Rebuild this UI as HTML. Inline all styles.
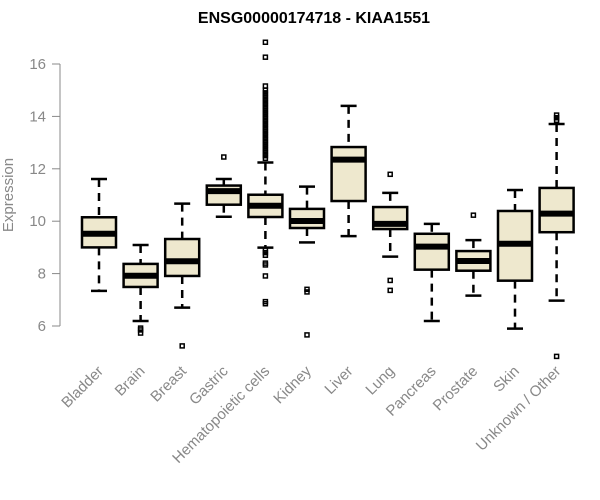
<!DOCTYPE html>
<html><head><meta charset="utf-8"><style>
body{margin:0;background:#fff}
svg{display:block;font-family:"Liberation Sans",sans-serif}
</style></head><body>
<svg id="chart" width="600" height="500">
<text x="314" y="23" text-anchor="middle" font-weight="bold" font-size="16">ENSG00000174718 - KIAA1551</text>
<text transform="translate(13,195) rotate(-90)" text-anchor="middle" font-size="15" fill="#888">Expression</text>
<g id="yaxis"></g>
<g id="boxes"></g>
<g id="xlabels"></g>
</svg>
<script>
const categories=["Bladder","Brain","Breast","Gastric","Hematopoietic cells","Kidney","Liver","Lung","Pancreas","Prostate","Skin","Unknown / Other"];
const lowWhisker=[7.34,6.19,6.70,10.17,8.99,9.19,9.43,8.65,6.19,7.16,5.90,6.97];
const q1=[9.0,7.49,7.91,10.63,10.16,9.74,10.77,9.70,8.15,8.11,7.73,9.58];
const median=[9.52,7.92,8.47,11.15,10.59,10.01,12.35,9.90,9.03,8.48,9.14,10.29];
const q3=[10.15,8.37,9.32,11.36,11.01,10.47,12.83,10.54,9.52,8.86,10.39,11.27];
const highWhisker=[11.61,9.09,10.67,11.61,12.24,11.32,14.40,11.08,9.90,9.28,11.19,13.71];
const outliers=[[],[5.92,5.85,5.73],[5.24],[12.45],[16.83,16.26,15.16,15.0,14.9,14.8,14.7,14.6,14.5,14.4,14.3,14.2,14.1,14.0,13.9,13.8,13.7,13.6,13.5,13.4,13.3,13.2,13.1,13.0,12.9,12.8,12.7,12.6,12.5,12.4,8.9,8.8,8.7,8.4,8.33,7.91,6.93,6.85],[7.40,7.3,5.66],[],[11.79,7.74,7.36],[],[10.23],[],[14.05,13.95,13.85,4.84]];
const yTicks=[6,8,10,12,14,16];
const NS="http://www.w3.org/2000/svg";
const y=v=>326-(v-6)*26.2;
const x=i=>99+41.6*i;
function mk(tag,attrs,parent){const e=document.createElementNS(NS,tag);for(const k in attrs)e.setAttribute(k,attrs[k]);parent.appendChild(e);return e;}
const ya=document.getElementById('yaxis');
mk('line',{x1:60,x2:60,y1:y(16),y2:y(6),stroke:'#888','stroke-width':1},ya);
yTicks.forEach(t=>{
 const l=mk('line',{x1:52,x2:60,y1:y(t),y2:y(t),stroke:'#888'},ya);
 
 
 const tx=mk('text',{x:46,y:y(t)+5,'text-anchor':'end','font-size':15,fill:'#888'},ya);
 tx.textContent=t;
 
 
});
const bg=document.getElementById('boxes');
const xl=document.getElementById('xlabels');
categories.forEach((c,i)=>{
 const cx=x(i);
 const g=mk('g',{},bg);
 
 
 mk('line',{x1:cx,x2:cx,y1:y(highWhisker[i]),y2:y(q3[i]),stroke:'#000','stroke-width':2.5,'stroke-dasharray':'8,6'},g);
 mk('line',{x1:cx,x2:cx,y1:y(q1[i]),y2:y(lowWhisker[i]),stroke:'#000','stroke-width':2.5,'stroke-dasharray':'8,6'},g);
 mk('line',{x1:cx-8,x2:cx+8,y1:y(highWhisker[i]),y2:y(highWhisker[i]),stroke:'#000','stroke-width':2.5},g);
 mk('line',{x1:cx-8,x2:cx+8,y1:y(lowWhisker[i]),y2:y(lowWhisker[i]),stroke:'#000','stroke-width':2.5},g);
 mk('rect',{x:cx-17,y:y(q3[i]),width:34,height:y(q1[i])-y(q3[i]),fill:'#EEE8CE',stroke:'#000','stroke-width':2.5},g);
 mk('line',{x1:cx-17,x2:cx+17,y1:y(median[i]),y2:y(median[i]),stroke:'#000','stroke-width':6},g);
 outliers[i].forEach(o=>{
  const r=mk('rect',{x:cx-2,y:y(o)-2,width:4,height:4,fill:'none',stroke:'#000','stroke-width':1.5},g);
  
  
 });
 const t=mk('text',{transform:`translate(${cx+5},${372}) rotate(-45)`,'text-anchor':'end','font-size':15,fill:'#888'},xl);
 t.textContent=c;
 
 
});
</script>
</body></html>
